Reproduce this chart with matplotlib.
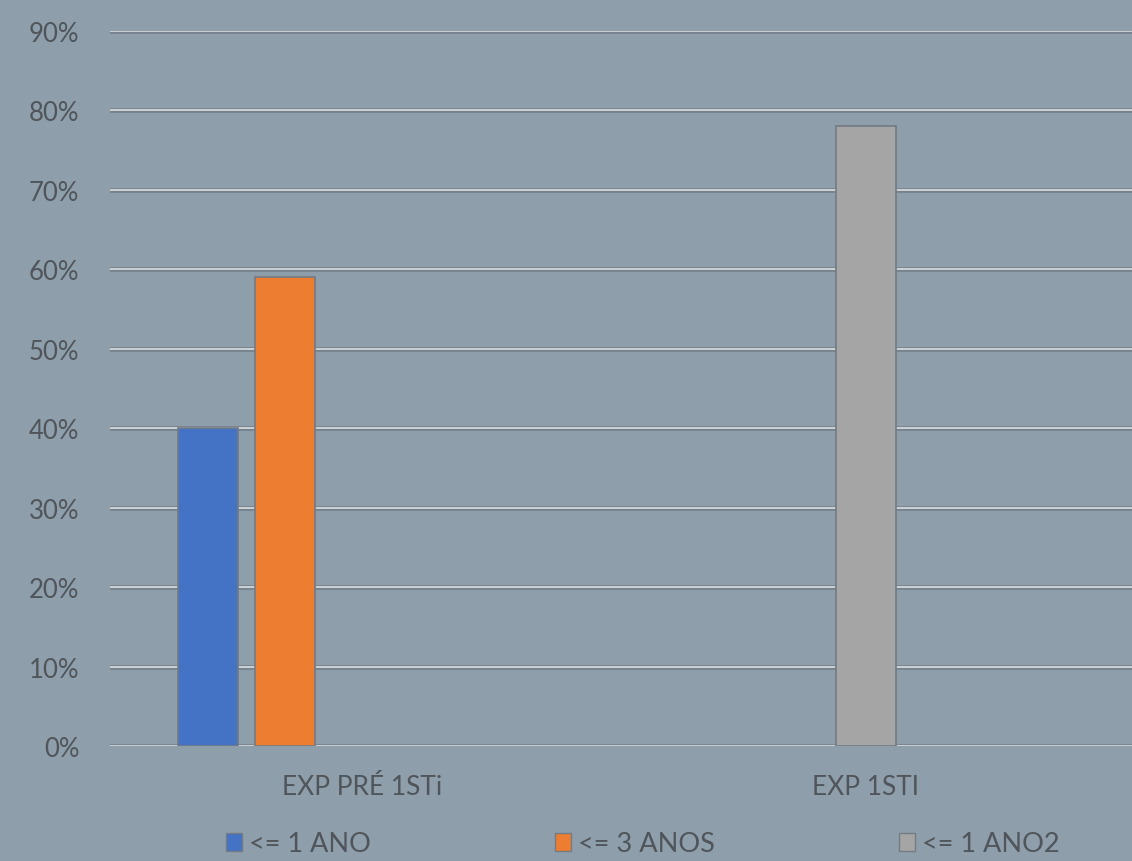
import numpy as np
import matplotlib.pyplot as plt
from matplotlib.patches import Patch

categorias = ['EXP PRÉ 1STi', 'EXP 1STI']
series = ['<= 1 ANO', '<= 3 ANOS', '<= 1 ANO2']
valores = [
    [0.40, 0.00],   # <= 1 ANO
    [0.59, 0.00],   # <= 3 ANOS
    [0.00, 0.78],   # <= 1 ANO2
]
cores = ['#4472c4', '#ed7d31', '#a5a5a5']
yticks = np.arange(0, 0.91, 0.1)

fundo = '#8e9eab'
texto = '#4f555a'

fig = plt.figure(figsize=(11.32, 8.62), dpi=100, facecolor=fundo)
ax = fig.add_axes([110/1132, 1 - 747/862, 1 - 110/1132, (747 - 32)/862])
ax.set_facecolor(fundo)

x = np.arange(len(categorias))
passo = 0.153
largura = 0.12
deslocamentos = [-2*passo, -passo, 0.0]

# linhas de grade: sombra escura com linha clara por cima
for v in yticks:
    ax.axhline(v, color='#76828c', lw=3.4, zorder=1)
    ax.axhline(v, color='#d4d8db', lw=1.3, zorder=1.5)

for s, nome in enumerate(series):
    # barras com valor zero ficam sem contorno
    bordas = [1.2 if v > 0 else 0 for v in valores[s]]
    ax.bar(x + deslocamentos[s], valores[s], width=largura, color=cores[s],
           edgecolor='#737b83', linewidth=bordas, zorder=3, label=nome)

ax.set_xlim(-0.5, -0.5 + (1132 - 110)/504)
ax.set_ylim(0, 0.9)
ax.set_yticks(yticks)
ax.set_yticklabels([f'{int(round(v*100))}%' for v in yticks])
ax.set_xticks(x)
ax.set_xticklabels(categorias)

for lado in ax.spines.values():
    lado.set_visible(False)
ax.tick_params(axis='both', length=0, colors=texto)
ax.tick_params(axis='y', pad=22, labelsize=18.5)
ax.tick_params(axis='x', pad=20, labelsize=19)
for t in ax.get_xticklabels() + ax.get_yticklabels():
    t.set_fontfamily('Lato')

alcas = [Patch(facecolor=c, edgecolor='#737b83', linewidth=1.0) for c in cores]
leg = fig.legend(alcas, series, loc='center', ncol=3,
                 bbox_to_anchor=(643/1132, 1 - 845/862), frameon=False,
                 handlelength=0.6, handleheight=0.6, handletextpad=0.25,
                 columnspacing=6.8, prop={'family': 'Lato', 'size': 19.5})
for t in leg.get_texts():
    t.set_color(texto)

fig.savefig('out.png', dpi=100, facecolor=fundo)
